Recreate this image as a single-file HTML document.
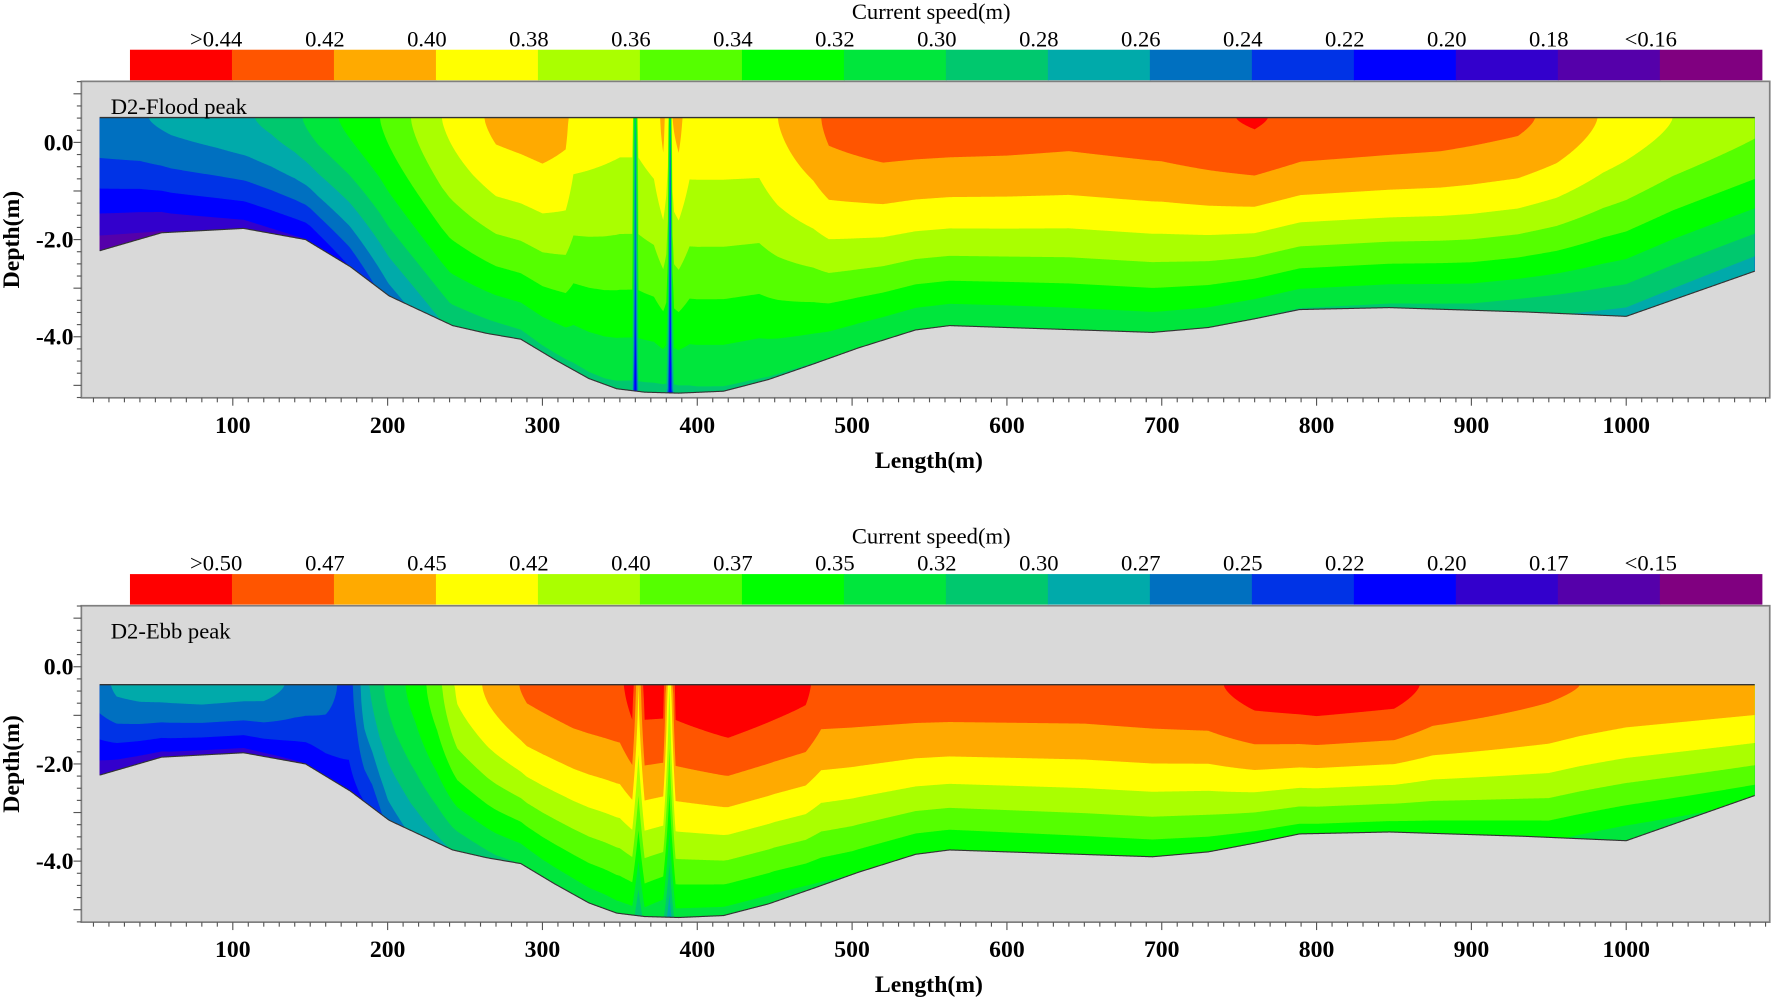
<!DOCTYPE html>
<html><head><meta charset="utf-8"><style>
html,body{margin:0;padding:0;background:#fff;}
svg{display:block;font-family:"Liberation Serif","DejaVu Serif",serif;}
</style></head><body>
<svg id="chart" width="1772" height="999" viewBox="0 0 1568 884" preserveAspectRatio="none" xmlns="http://www.w3.org/2000/svg"></svg>
<script>
// ---- data ----
const colors = ["#ff0000","#ff5500","#ffaa00","#ffff00","#aaff00","#55ff00","#00ff00","#00e63c","#00c86e","#00aaaa","#0070c0","#0033e6","#0000ff","#3300cc","#5500aa","#800080"];
const floodThresholds = [0.44,0.42,0.40,0.38,0.36,0.34,0.32,0.30,0.28,0.26,0.24,0.22,0.20,0.18,0.16];
const floodLabels = [">0.44","0.42","0.40","0.38","0.36","0.34","0.32","0.30","0.28","0.26","0.24","0.22","0.20","0.18","<0.16"];
const ebbThresholds = [0.50,0.475,0.45,0.425,0.40,0.375,0.35,0.325,0.30,0.275,0.25,0.225,0.20,0.175,0.15];
const ebbLabels = [">0.50","0.47","0.45","0.42","0.40","0.37","0.35","0.32","0.30","0.27","0.25","0.22","0.20","0.17","<0.15"];
const bedX = [14,54,107,147,176,201,242,264,286,308,330,348,366,388,417,446,475,504,541,563,694,730,760,789,847,935,1000,1083];
const bedDepth = [-2.23,-1.86,-1.77,-2.0,-2.56,-3.16,-3.77,-3.93,-4.05,-4.47,-4.86,-5.07,-5.14,-5.16,-5.12,-4.88,-4.56,-4.23,-3.86,-3.77,-3.91,-3.81,-3.63,-3.44,-3.40,-3.49,-3.58,-2.65];
const floodSurfX = [14,40,60,90,110,125,140,155,175,195,215,235,255,270,300,315,320,350,358,360,362,372,378,381,382.5,384,388,395,440,452,475,485,520,600,640,700,760,790,880,930,955,985,1030,1083];
const floodSurfSpeed = [0.255,0.258,0.265,0.272,0.278,0.285,0.295,0.31,0.325,0.34,0.36,0.38,0.395,0.405,0.41,0.405,0.39,0.385,0.385,0.26,0.385,0.39,0.405,0.39,0.24,0.40,0.405,0.39,0.39,0.40,0.415,0.425,0.432,0.43,0.428,0.432,0.442,0.435,0.43,0.424,0.415,0.398,0.38,0.365];
const floodBedX = [14,60,107,150,175,200,240,300,340,358,360,362,380,382.5,385,400,500,600,700,800,900,1000,1083];
const floodBedSpeed = [0.165,0.18,0.19,0.2,0.22,0.25,0.285,0.295,0.297,0.295,0.20,0.295,0.295,0.20,0.295,0.297,0.30,0.30,0.302,0.298,0.293,0.272,0.266];
const ebbSurfX = [14,25,40,80,120,140,160,175,180,185,195,205,218,232,245,265,290,320,350,358,362,366,378,382,386,420,470,480,550,650,730,760,800,850,875,950,970,1000,1083];
const ebbSurfSpeed = [0.265,0.28,0.285,0.29,0.285,0.27,0.26,0.24,0.26,0.29,0.32,0.34,0.36,0.39,0.43,0.455,0.48,0.49,0.495,0.51,0.45,0.51,0.51,0.42,0.51,0.52,0.505,0.49,0.49,0.49,0.495,0.51,0.515,0.51,0.495,0.48,0.475,0.47,0.465];
const ebbBedX = [14,60,107,150,175,190,200,215,240,270,300,340,358,362,366,378,382,386,400,450,500,560,700,800,950,1000,1083];
const ebbBedSpeed = [0.18,0.19,0.19,0.2,0.215,0.23,0.26,0.28,0.30,0.32,0.33,0.335,0.34,0.30,0.34,0.33,0.28,0.34,0.34,0.34,0.35,0.35,0.355,0.36,0.355,0.33,0.36];
const xTicks = [100,200,300,400,500,600,700,800,900,1000];
const yTicks = [0,-2,-4];

// ---- helpers ----
const NS = "http://www.w3.org/2000/svg";
const svg = document.getElementById("chart");
function mk(tag, attrs, parent, txt){
  const e = document.createElementNS(NS, tag);
  for (const k in attrs) e.setAttribute(k, attrs[k]);
  if (txt !== undefined) e.textContent = txt;
  (parent || svg).appendChild(e);
  return e;
}
function interp(xs, ys, x){
  if (x <= xs[0]) return ys[0];
  for (let i = 1; i < xs.length; i++){
    if (x <= xs[i]){ const t = (x - xs[i-1]) / (xs[i] - xs[i-1]); return ys[i-1] + t * (ys[i] - ys[i-1]); }
  }
  return ys[ys.length - 1];
}
const xScale = m => 69 + m * 1.37;
const X0 = 14, X1 = 1083;

function drawPanel(off, y0, surfDepth, thresholds, labels, sx, ss, bx, bs, title, key){
  const yScale = d => y0 - d * 43;
  const g = mk("g", {});
  
  
  const t = mk("text", {x: 824, y: 17 + off, "text-anchor": "middle", "font-size": 20, fill: "#000"}, g, "Current speed(m)");
  
  
  const cbW = (1559 - 115) / 16;
  colors.forEach((c, i) => {
    const r = mk("rect", {x: 115 + i * cbW, y: 44 + off, width: cbW + 0.5, height: 27, fill: c}, g);
    
    
  });
  labels.forEach((l, i) => {
    const tx = mk("text", {x: 115 + (i + 1) * cbW - 8 - (i === 0 ? 6 : 0), y: 41 + off, "text-anchor": "middle", "font-size": 20, fill: "#000"}, g, l);
    
    
  });
  const fr = mk("rect", {x: 72, y: 72 + off, width: 1494, height: 280, fill: "#d9d9d9", stroke: "#7f7f7f", "stroke-width": 1.5}, g);
  
  
  const ys = yScale(surfDepth);
  const xsPts = [];
  for (let m = X0; m <= X1 + 0.001; m += 0.5) xsPts.push(m);
  const bedY = xsPts.map(m => yScale(interp(bedX, bedDepth, m)));
  const sArr = xsPts.map(m => interp(sx, ss, m));
  const bArr = xsPts.map(m => interp(bx, bs, m));
  for (let ci = 15; ci >= 0; ci--){
    const thr = ci === 15 ? -1 : thresholds[ci];
    const pts = [];
    xsPts.forEach((m, i) => {
      const s = sArr[i], b = bArr[i];
      let f;
      if (s <= thr) f = 0;
      else if (b >= thr) f = 1;
      else f = Math.pow((s - thr) / (s - b), 1 / 1.5);
      pts.push(xScale(m).toFixed(2) + "," + (ys + f * (bedY[i] - ys)).toFixed(2));
    });
    pts.push(xScale(X1).toFixed(2) + "," + ys, xScale(X0).toFixed(2) + "," + ys);
    const p = mk("polygon", {points: pts.join(" "), fill: colors[ci]}, g);
    
    
  }
  const ol = [];
  xsPts.forEach((m, i) => ol.push(xScale(m).toFixed(2) + "," + bedY[i].toFixed(2)));
  const bl = mk("polyline", {points: ol.join(" "), fill: "none", stroke: "#333", "stroke-width": 1}, g);
  
  
  const sl = mk("line", {x1: xScale(X0), y1: ys, x2: xScale(X1), y2: ys, stroke: "#333", "stroke-width": 1.2}, g);
  
  
  const pt = mk("text", {x: 98, y: 101 + off, "font-size": 20, fill: "#000"}, g, title);
  
  
  for (let m = 10; m <= 1090; m += 10){
    const big = m % 100 === 0;
    mk("line", {x1: xScale(m), y1: 352 + off, x2: xScale(m), y2: 352 + off + (big ? 7 : 4), stroke: "#555", "stroke-width": 1}, g);
  }
  xTicks.forEach(v => {
    const tx = mk("text", {x: xScale(v), y: 383 + off, "text-anchor": "middle", "font-size": 21, "font-weight": "bold", fill: "#000"}, g, String(v));
    
    
  });
  const xl = mk("text", {x: 822, y: 414 + off, "text-anchor": "middle", "font-size": 21, "font-weight": "bold", fill: "#000"}, g, "Length(m)");
  
  
  for (let d = -5.25; d <= 1.26; d += 0.25){
    const y = yScale(d);
    if (y < 72 + off || y > 352 + off) continue;
    const big = Math.abs(d % 1) < 0.01;
    mk("line", {x1: 72, y1: y, x2: big ? 65 : 68, y2: y, stroke: "#555", "stroke-width": 1}, g);
  }
  yTicks.forEach(v => {
    const tx = mk("text", {x: 65, y: yScale(v) + 7, "text-anchor": "end", "font-size": 21, "font-weight": "bold", fill: "#000"}, g, v.toFixed(1));
    
    
  });
  const yl = mk("text", {x: 0, y: 0, "text-anchor": "middle", "font-size": 21, "font-weight": "bold", fill: "#000", transform: "translate(17," + (212 + off) + ") rotate(-90)"}, g, "Depth(m)");
  
  
}
drawPanel(0, 126, 0.51, floodThresholds, floodLabels, floodSurfX, floodSurfSpeed, floodBedX, floodBedSpeed, "D2-Flood peak", "flood");
drawPanel(464, 590, -0.37, ebbThresholds, ebbLabels, ebbSurfX, ebbSurfSpeed, ebbBedX, ebbBedSpeed, "D2-Ebb peak", "ebb");
</script>
</body></html>
